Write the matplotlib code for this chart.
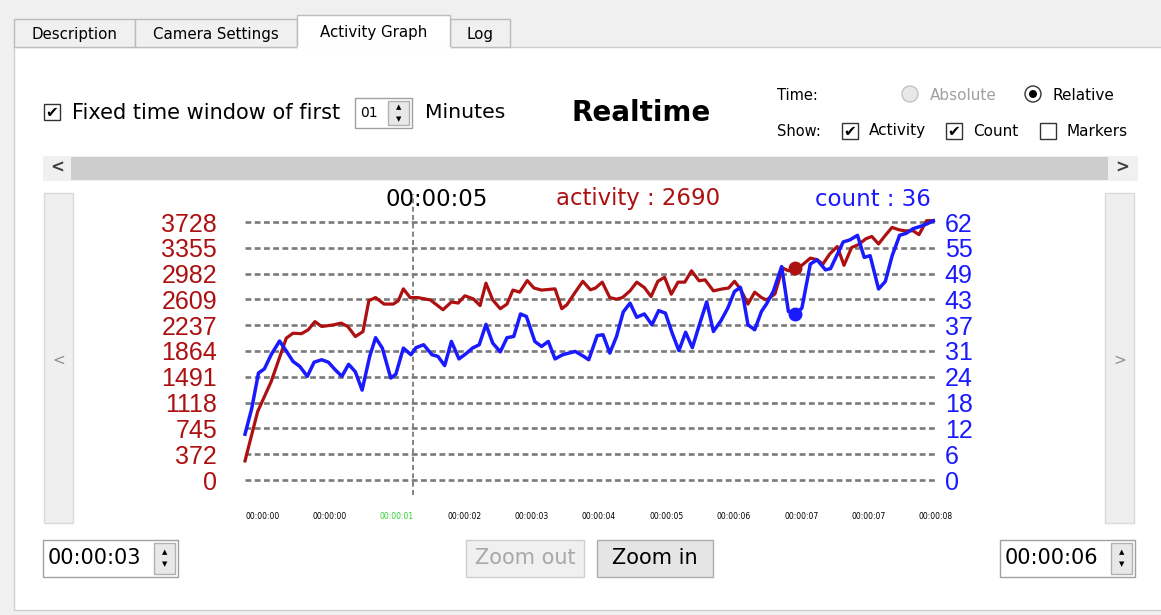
import numpy as np
import matplotlib.pyplot as plt
from matplotlib.patches import Rectangle, Circle

W, H = 1161, 615

# values (time in seconds)
t_activity = [0.00, 0.15, 0.31, 0.49, 0.57, 0.67, 0.75, 0.83, 0.91, 1.05, 1.14, 1.22, 1.31,
              1.40, 1.47, 1.55, 1.65, 1.76, 1.82, 1.88, 1.96, 2.05, 2.20, 2.35, 2.45, 2.53,
              2.61, 2.71, 2.79, 2.86, 2.94, 3.03, 3.11, 3.18, 3.26, 3.35, 3.43, 3.52, 3.68,
              3.76, 3.82, 3.92, 4.01, 4.10, 4.16, 4.24, 4.33, 4.41, 4.48, 4.57, 4.65, 4.74,
              4.82, 4.90, 4.98, 5.06, 5.14, 5.22, 5.30, 5.39, 5.46, 5.56, 5.67, 5.74, 5.81,
              5.88, 5.97, 6.05, 6.13, 6.19, 6.29, 6.38, 6.45, 6.53, 6.61, 6.71, 6.79, 6.86,
              6.94, 7.03, 7.11, 7.20, 7.28, 7.37, 7.44, 7.52, 7.60, 7.68, 7.76, 7.83, 7.93,
              8.00, 8.09, 8.17]
activity = [276, 988, 1420, 2050, 2121, 2114, 2170, 2289, 2218, 2241, 2267, 2218, 2073,
            2144, 2591, 2636, 2542, 2542, 2591, 2762, 2636, 2636, 2602, 2460, 2572, 2557,
            2662, 2617, 2520, 2844, 2602, 2475, 2542, 2744, 2714, 2882, 2774, 2744, 2762,
            2475, 2531, 2714, 2871, 2748, 2774, 2859, 2636, 2613, 2636, 2733, 2859, 2781,
            2651, 2871, 2930, 2684, 2859, 2859, 3023, 2878, 2893, 2733, 2762, 2774, 2871,
            2762, 2542, 2714, 2636, 2602, 2688, 3064, 3023, 3064, 3102, 3206, 3184, 3120,
            3266, 3374, 3102, 3359, 3400, 3486, 3519, 3411, 3534, 3650, 3616, 3601, 3601,
            3545, 3747, 3747]

t_count = [0.00, 0.08, 0.16, 0.23, 0.31, 0.41, 0.49, 0.57, 0.65, 0.74, 0.82, 0.91, 0.99,
           1.07, 1.15, 1.23, 1.31, 1.39, 1.48, 1.55, 1.63, 1.73, 1.79, 1.88, 1.97, 2.03,
           2.12, 2.22, 2.29, 2.37, 2.45, 2.54, 2.62, 2.70, 2.78, 2.86, 2.94, 3.03, 3.11,
           3.19, 3.27, 3.34, 3.44, 3.52, 3.60, 3.68, 3.77, 3.92, 4.02, 4.08, 4.18, 4.25,
           4.33, 4.41, 4.49, 4.57, 4.65, 4.74, 4.83, 4.91, 4.99, 5.07, 5.15, 5.23, 5.31,
           5.39, 5.48, 5.56, 5.65, 5.73, 5.81, 5.88, 5.92, 5.97, 6.05, 6.13, 6.19, 6.27,
           6.37, 6.45, 6.53, 6.61, 6.71, 6.79, 6.89, 6.95, 7.10, 7.18, 7.27, 7.35, 7.42,
           7.52, 7.60, 7.68, 7.77, 7.85, 7.93, 8.01, 8.09, 8.17]
count = [11.0, 17.2, 25.7, 26.7, 30.1, 33.4, 31.0, 28.5, 27.3, 24.9, 28.3, 28.9, 28.3,
         26.5, 24.9, 27.8, 26.0, 21.6, 29.7, 34.2, 31.7, 24.5, 25.4, 31.7, 30.1, 31.8,
         32.5, 30.1, 29.7, 27.5, 33.3, 29.1, 30.3, 31.7, 32.5, 37.4, 32.9, 30.8, 34.2,
         34.5, 39.9, 39.3, 33.3, 32.1, 33.3, 29.1, 30.1, 30.9, 29.7, 28.9, 34.7, 34.9,
         30.5, 34.5, 40.4, 42.5, 39.1, 39.9, 37.3, 40.7, 40.1, 35.3, 31.1, 35.5, 31.8,
         37.1, 42.8, 35.7, 38.3, 41.3, 45.3, 46.3, 43.1, 37.3, 36.1, 40.5, 42.3, 45.3,
         51.3, 40.5, 39.9, 41.3, 51.9, 52.9, 50.5, 50.8, 57.2, 57.7, 58.8, 53.5, 53.9,
         45.9, 47.7, 53.8, 58.8, 59.3, 60.4, 60.9, 61.5, 62.3]

activity_labels = ['0', '372', '745', '1118', '1491', '1864', '2237', '2609', '2982', '3355', '3728']
count_labels = ['0', '6', '12', '18', '24', '31', '37', '43', '49', '55', '62']
time_labels = ['00:00:00', '00:00:00', '00:00:01', '00:00:02', '00:00:03', '00:00:04',
               '00:00:05', '00:00:06', '00:00:07', '00:00:07', '00:00:08']
activity_max = 3728
count_max = 62
t_max = 8.19
tick_step = 0.8
cursor_t = 2.0
marker_t = 6.53

RED = '#ad1010'
BLUE = '#1a1aff'
GUI_FONT = 'DejaVu Sans'
NUM_FONT = 'Liberation Sans'

fig = plt.figure(figsize=(W / 100, H / 100), dpi=100)
fig.patch.set_facecolor('#f0f0f0')

# background axes in pixel coordinates for the dialog widgets
bg = fig.add_axes([0, 0, 1, 1])
bg.set_xlim(0, W)
bg.set_ylim(H, 0)
bg.axis('off')


def box(x0, y0, x1, y1, fc='white', ec='#adadad', lw=1, z=1):
    bg.add_patch(Rectangle((x0, y0), x1 - x0, y1 - y0, fc=fc, ec=ec, lw=lw, zorder=z))


def label(x, y, s, size=11, color='black', ha='left', weight='normal', z=5, family=GUI_FONT):
    bg.text(x, y, s, fontsize=size, color=color, ha=ha, va='center',
            family=family, fontweight=weight, zorder=z)


def checkbox(x, y, checked):
    box(x, y - 8, x + 16, y + 8, fc='white', ec='#333333', z=4)
    if checked:
        bg.text(x + 8, y + 0.5, '\u2714', fontsize=11, ha='center', va='center',
                family='DejaVu Sans', zorder=5)


def spinbox(x0, x1, y0, y1, text, size):
    box(x0, y0, x1, y1, fc='white', ec='#a0a0a0', z=3)
    box(x1 - 24, y0 + 3, x1 - 3, y1 - 3, fc='#e8e8e8', ec='#b0b0b0', z=4)
    ym = (y0 + y1) / 2
    bg.text(x1 - 13.5, ym - 6, '\u25b2', fontsize=5, ha='center', va='center', zorder=5)
    bg.text(x1 - 13.5, ym + 6, '\u25bc', fontsize=5, ha='center', va='center', zorder=5)
    label(x0 + 5, ym, text, size=size)


# panel and tabs
box(14, 47, W + 20, 610, fc='white', ec='#d0d0d0', z=1)
tabs = [('Description', 14, 135), ('Camera Settings', 135, 297), ('Log', 450, 510)]
for name, a, b in tabs:
    box(a, 19, b, 47, fc='#f0f0f0', ec='#bcbcbc', z=2)
    label((a + b) / 2, 34, name, size=10.8, ha='center')
box(297, 15, 450, 48, fc='white', ec='#bcbcbc', z=2)
bg.plot([298, 449], [47.5, 47.5], color='white', lw=2, zorder=3)
label(373.5, 33, 'Activity Graph', size=10.8, ha='center')

# top controls
checkbox(44, 112, True)
label(72, 113, 'Fixed time window of first', size=15)
spinbox(355, 412, 98, 128, '01', 10)
label(425, 113, 'Minutes', size=14.7)
label(641, 113, 'Realtime', size=20, ha='center', weight='bold')

label(777, 95, 'Time:', size=10.5)
bg.add_patch(Circle((910, 94), 8, fc='#e8e8e8', ec='#c4c4c4', lw=1, zorder=4))
label(930, 95, 'Absolute', size=11, color='#a0a0a0')
bg.add_patch(Circle((1033, 94), 8, fc='white', ec='#333333', lw=1, zorder=4))
bg.add_patch(Circle((1033, 94), 4, fc='black', ec='none', zorder=5))
label(1052, 95, 'Relative', size=11)

label(777, 131, 'Show:', size=10.5)
checkbox(842, 131, True)
label(869, 131, 'Activity', size=11)
checkbox(946, 131, True)
label(973, 131, 'Count', size=11)
checkbox(1040, 131, False)
label(1066, 131, 'Markers', size=11)

# scrollbar
box(43, 156, 1138, 181, fc='#f0f0f0', ec='none', z=2)
box(71, 157, 1108, 180, fc='#cdcdcd', ec='none', z=3)
label(57, 168, '<', size=12, color='#404040', ha='center', weight='bold')
label(1122, 168, '>', size=12, color='#404040', ha='center', weight='bold')

# side navigation buttons
box(44, 193, 73, 523, fc='#efefef', ec='#dadada', z=2)
box(1105, 193, 1134, 523, fc='#efefef', ec='#dadada', z=2)
label(59, 360, '<', size=11, color='#909090', ha='center')
label(1120, 360, '>', size=11, color='#909090', ha='center')

# bottom controls
spinbox(43, 178, 540, 577, '00:00:03', 15)
spinbox(1000, 1135, 540, 577, '00:00:06', 15)
box(466, 540, 584, 577, fc='#f0f0f0', ec='#d0d0d0', z=2)
label(525, 558.5, 'Zoom out', size=15, color='#a8a8a8', ha='center')
box(597, 540, 713, 577, fc='#e5e5e5', ec='#adadad', z=2)
label(655, 558.5, 'Zoom in', size=15, ha='center')

# header texts above the chart
label(437, 199, '00:00:05', size=16.5, ha='center')
label(638, 199, 'activity : 2690', size=16.5, color=RED, ha='center')
label(873, 199, 'count : 36', size=16.5, color=BLUE, ha='center')

# the chart itself
ax = fig.add_axes([245 / W, (H - 480) / H, 690 / W, 258 / H])
ax.patch.set_alpha(0)
ax2 = ax.twinx()
for a in (ax, ax2):
    for s in a.spines.values():
        s.set_visible(False)

ax.set_xlim(0, t_max)
ax.set_ylim(0, activity_max)
ax2.set_ylim(0, count_max)

ax.set_yticks(np.linspace(0, activity_max, len(activity_labels)))
ax.set_yticklabels(activity_labels)
ax2.set_yticks(np.linspace(0, count_max, len(count_labels)))
ax2.set_yticklabels(count_labels)
ax.tick_params(axis='y', length=0, pad=20, labelsize=18, labelcolor=RED)
ax2.tick_params(axis='y', length=0, pad=7, labelsize=18, labelcolor=BLUE)
for t in ax.get_yticklabels() + ax2.get_yticklabels():
    t.set_family(NUM_FONT)

ax.set_xticks(np.arange(len(time_labels)) * tick_step)
ax.set_xticklabels(time_labels, ha='left')
ax.tick_params(axis='x', length=0, pad=23, labelsize=5.5)
ax.get_xticklabels()[2].set_color('#30d030')

ax.grid(axis='y', color='#7a7a7a', lw=1.9, linestyle=(0, (2.2, 1.3)))
for gl in ax.get_ygridlines():
    gl.set_clip_on(False)
ax.axvline(cursor_t, ymin=-0.06, ymax=1.11, color='#707070', lw=1.2,
           linestyle=(0, (3, 2)), clip_on=False, zorder=1)

ax.plot(t_activity, activity, color=RED, lw=2.3, clip_on=False, zorder=3)
ax2.plot(t_count, count, color=BLUE, lw=2.5, clip_on=False, zorder=4)
ax.plot([marker_t], [np.interp(marker_t, t_activity, activity)], 'o', color=RED,
        ms=9, clip_on=False, zorder=5)
ax2.plot([marker_t], [np.interp(marker_t, t_count, count)], 'o', color=BLUE,
         ms=9, clip_on=False, zorder=5)

fig.savefig('out.png', dpi=100, facecolor=fig.get_facecolor())
